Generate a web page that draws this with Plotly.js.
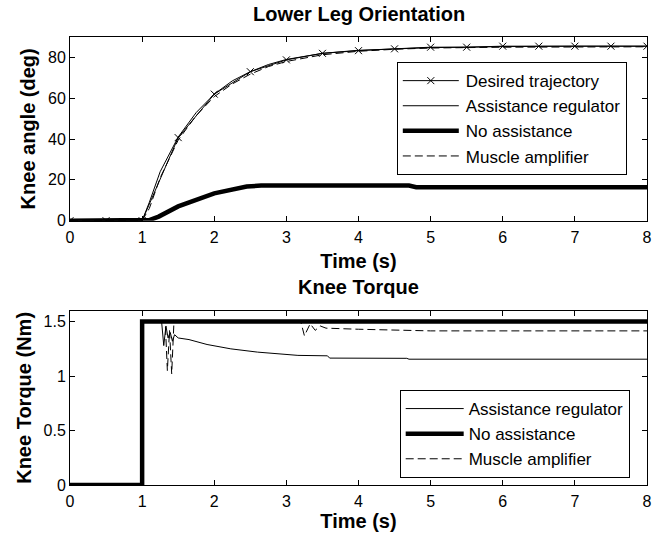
<!DOCTYPE html>
<html>
<head>
<meta charset="utf-8">
<script src="https://cdn.plot.ly/plotly-3.0.1.min.js"></script>
<style>html,body{margin:0;padding:0;background:#fff;}#chart{width:664px;height:540px;}</style>
</head>
<body>
<div id="chart"></div>
<script>
// ---- Top plot: Lower Leg Orientation (knee angle, deg) ----
const desiredT = [0,0.5,1,1.5,2,2.5,3,3.5,4,4.5,5,5.5,6,6.5,7,7.5,8];
const desiredV = [0,0,0,40.7,62,73,78.8,82,83.3,84.2,85,85,85.5,85.5,85.5,85.5,85.5];

const regAngleT = [0,1,1.1,1.25,1.5,1.75,2,2.25,2.5,2.75,3,3.5,4,4.5,5,5.5,6,7,8];
const regAngleV = [0,0,9,24,41,53,62,68.5,73,76.5,79,82,83.5,84.3,84.8,85,85.3,85.5,85.5];

const noAngleT = [0,1,1.1,1.23,1.5,2,2.45,2.65,4.7,4.8,8];
const noAngleV = [0,0,0.3,2,7,13.4,16.7,17.2,17.2,16.4,16.4];

const ampAngleT = [0,1,1.1,1.25,1.5,1.75,2,2.25,2.5,2.75,3,3.5,4,4.5,5,6,8];
const ampAngleV = [0,0,6,21,39.5,51.5,60.8,67,71.8,75.5,78,81.3,83,84,84.6,85,85.2];

// ---- Bottom plot: Knee Torque (Nm) ----
const regTorqueT = [0,1,1,1.27,1.30,1.33,1.36,1.39,1.42,1.45,1.5,1.65,1.9,2.23,2.6,3.16,3.57,3.6,4.67,4.7,8];
const regTorqueV = [0,0,1.5,1.5,1.28,1.46,1.35,1.40,1.32,1.38,1.35,1.335,1.29,1.25,1.22,1.19,1.186,1.165,1.163,1.155,1.155];

const noTorqueT = [0,1,1,8];
const noTorqueV = [0,0,1.5,1.5];

const ampTorqueT = [0,1,1,1.32,1.35,1.38,1.41,1.44,1.47,3.2,3.25,3.33,3.4,3.47,3.55,4,5,8];
const ampTorqueV = [0,0,1.5,1.5,1.05,1.42,1.02,1.48,1.5,1.5,1.37,1.48,1.42,1.46,1.44,1.43,1.415,1.415];

const names = ['Desired trajectory','Assistance regulator','No assistance','Muscle amplifier'];

const thin = {color:'#000', width:1};
const thick = {color:'#000', width:4.5};
const dashed = {color:'#000', width:1, dash:'8px,4px'};

const traces = [
  {x:desiredT, y:desiredV, name:names[0], mode:'lines+markers', line:thin,
   marker:{symbol:'x-thin-open', size:7, color:'#000', line:{color:'#000', width:1}}, xaxis:'x', yaxis:'y', legend:'legend'},
  {x:regAngleT, y:regAngleV, name:names[1], mode:'lines', line:thin, xaxis:'x', yaxis:'y', legend:'legend'},
  {x:noAngleT, y:noAngleV, name:names[2], mode:'lines', line:thick, xaxis:'x', yaxis:'y', legend:'legend'},
  {x:ampAngleT, y:ampAngleV, name:names[3], mode:'lines', line:dashed, xaxis:'x', yaxis:'y', legend:'legend'},
  {x:regTorqueT, y:regTorqueV, name:names[1], mode:'lines', line:thin, xaxis:'x2', yaxis:'y2', legend:'legend2'},
  {x:noTorqueT, y:noTorqueV, name:names[2], mode:'lines', line:thick, xaxis:'x2', yaxis:'y2', legend:'legend2'},
  {x:ampTorqueT, y:ampTorqueV, name:names[3], mode:'lines', line:dashed, xaxis:'x2', yaxis:'y2', legend:'legend2'}
];

const FONT = 'Liberation Sans, Arial, Helvetica, sans-serif';
const TSIZE = 20;
const axisBase = {
  showline:true, linecolor:'#000', linewidth:1, mirror:'ticks',
  ticks:'inside', ticklen:5, tickcolor:'#000', tickwidth:1,
  showgrid:false, zeroline:false,
  tickfont:{family:FONT, size:16, color:'#000'}
};
const xTicks = {tickvals:[0,1,2,3,4,5,6,7,8], range:[0,8], ticklabelstandoff:2};

const layout = {
  width:664, height:540,
  margin:{l:70, r:17, t:37, b:55},
  paper_bgcolor:'#fff', plot_bgcolor:'#fff',
  font:{family:FONT, color:'#000'},
  xaxis:Object.assign({}, axisBase, xTicks, {domain:[0,1], anchor:'y',
    title:{text:'<b>Time (s)</b>', font:{family:FONT, size:TSIZE, color:'#000'}, standoff:9}}),
  yaxis:Object.assign({}, axisBase, {domain:[0.59,1], anchor:'x', range:[0,90], tickvals:[0,20,40,60,80],
    title:{text:'<b>Knee angle (deg)</b>', font:{family:FONT, size:TSIZE, color:'#000'}, standoff:6}}),
  xaxis2:Object.assign({}, axisBase, xTicks, {domain:[0,1], anchor:'y2',
    title:{text:'<b>Time (s)</b>', font:{family:FONT, size:TSIZE, color:'#000'}, standoff:4}}),
  yaxis2:Object.assign({}, axisBase, {domain:[0,0.389], anchor:'x2', range:[0,1.6], tickvals:[0,0.5,1,1.5], ticktext:['0','0.5','1','1.5'],
    title:{text:'<b>Knee Torque (Nm)</b>', font:{family:FONT, size:TSIZE, color:'#000'}, standoff:6}}),
  legend:{x:0.965, xanchor:'right', y:0.944, yanchor:'top', bgcolor:'#fff', bordercolor:'#000', borderwidth:1,
    font:{family:FONT, size:17, color:'#000'}, tracegroupgap:0, itemwidth:58},
  legend2:{x:0.97, xanchor:'right', y:0.212, yanchor:'top', bgcolor:'#fff', bordercolor:'#000', borderwidth:1,
    font:{family:FONT, size:17, color:'#000'}, tracegroupgap:0, itemwidth:58},
  annotations:[
    {text:'<b>Lower Leg Orientation</b>', xref:'paper', yref:'paper', x:0.5, y:1.051, xanchor:'center', yanchor:'middle',
     showarrow:false, font:{family:FONT, size:TSIZE, color:'#000'}},
    {text:'<b>Knee Torque</b>', xref:'paper', yref:'paper', x:0.5, y:0.442, xanchor:'center', yanchor:'middle',
     showarrow:false, font:{family:FONT, size:TSIZE, color:'#000'}}
  ]
};

Plotly.newPlot('chart', traces, layout, {displayModeBar:false, staticPlot:true}).then(function(gd){
  // lengthen the legend line samples to match the reference's wider symbols
  gd.querySelectorAll('.legend .legendlines path').forEach(function(p){ p.setAttribute('d','M5,0h56'); });
  gd.querySelectorAll('.legend .legendpoints path.scatterpts').forEach(function(p){ p.setAttribute('transform','translate(33,0)'); });
});
</script>
</body>
</html>
